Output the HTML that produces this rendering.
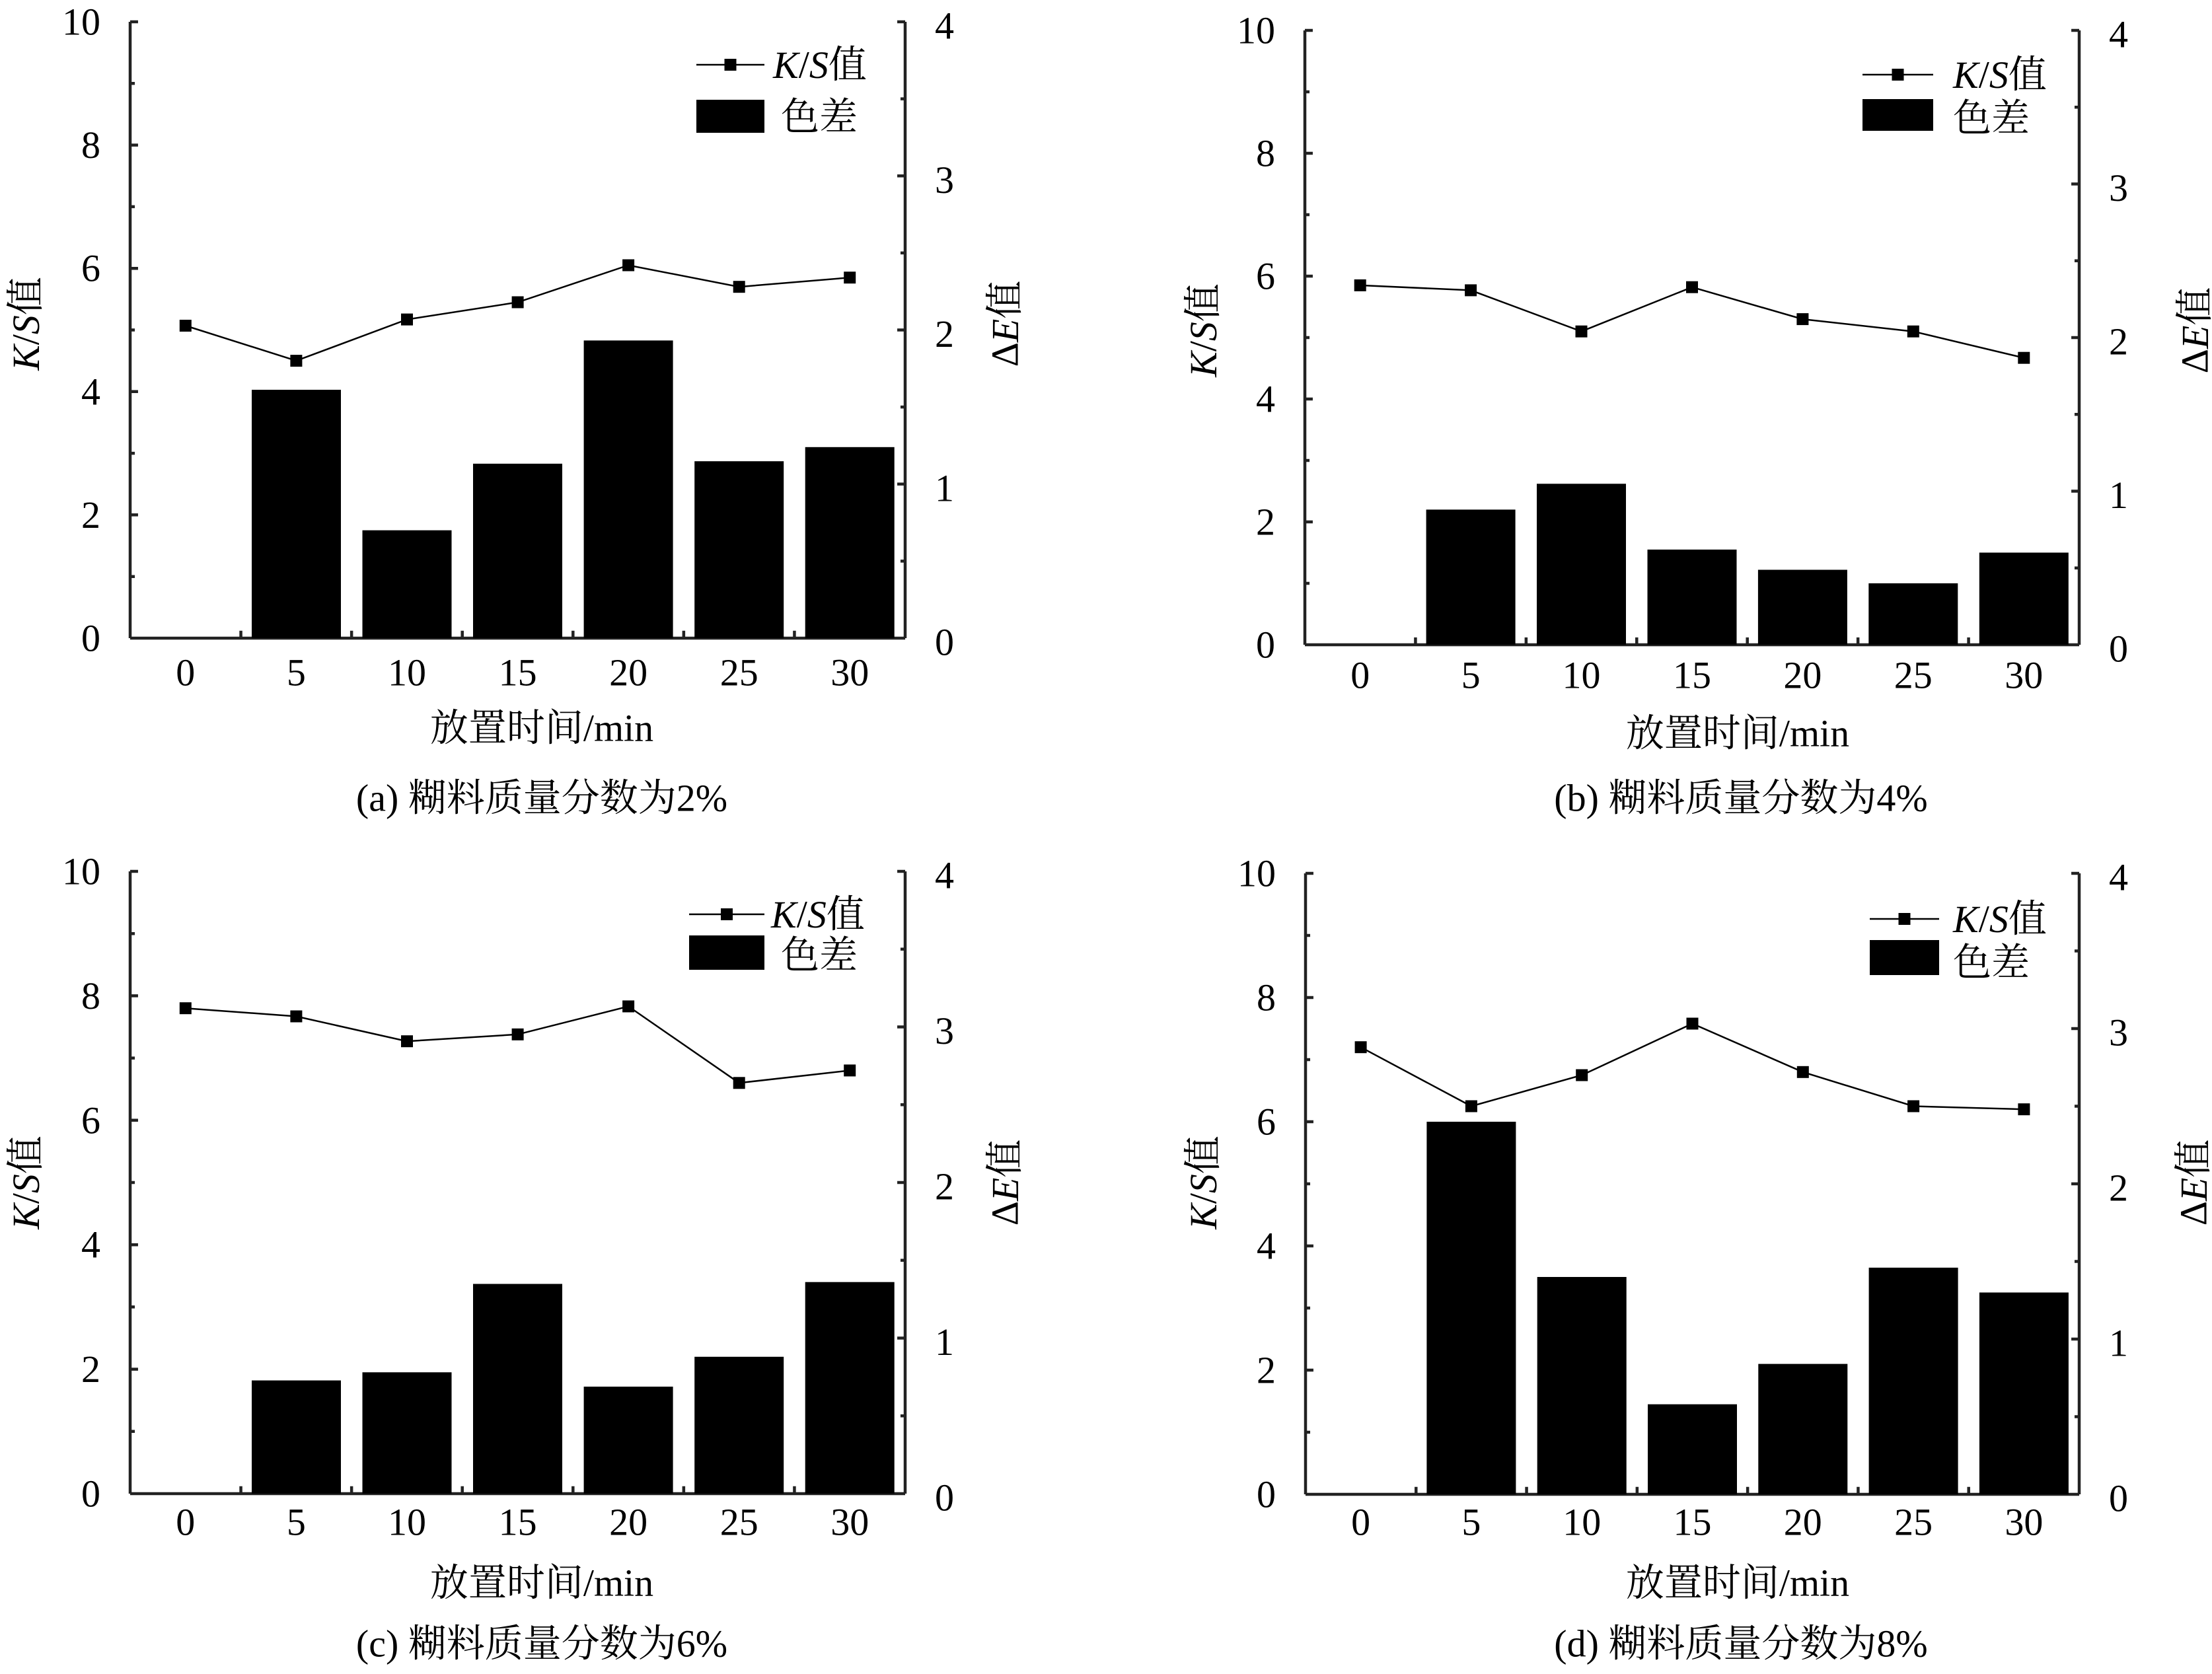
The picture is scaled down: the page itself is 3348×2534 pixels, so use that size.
<!DOCTYPE html>
<html><head><meta charset="utf-8"><style>
html,body{margin:0;padding:0;background:#fff}
svg{display:block;font-family:"Liberation Serif","Noto Serif CJK SC","DejaVu Serif",serif}
svg text{font-family:"Liberation Serif","Noto Serif CJK SC","DejaVu Serif",serif;font-size:58px;fill:#000}
.l{text-anchor:end;dominant-baseline:central;font-family:"Liberation Serif","Noto Serif CJK SC",serif}
.r{text-anchor:start;dominant-baseline:central;font-family:"Liberation Serif","Noto Serif CJK SC",serif}
.m{text-anchor:middle;dominant-baseline:central;font-family:"Liberation Serif","Noto Serif CJK SC",serif}
.s{text-anchor:start;dominant-baseline:central;font-family:"Liberation Serif","Noto Serif CJK SC",serif}
</style></head><body>
<svg width="3348" height="2534" viewBox="0 0 3348 2534" xmlns="http://www.w3.org/2000/svg" font-family="Liberation Serif, Noto Serif CJK SC, serif" font-size="58">
<defs>
<path id="ax" d="M0,0V-1000M1000,0V-1000M0,0H1000
M0,0h10.2M0,-200h10.2M0,-400h10.2M0,-600h10.2M0,-800h10.2M0,-1000h10.2
M0,-100h6M0,-300h6M0,-500h6M0,-700h6M0,-900h6
M1000,0h-10.2M1000,-250h-10.2M1000,-500h-10.2M1000,-750h-10.2M1000,-1000h-10.2
M1000,-125h-6M1000,-375h-6M1000,-625h-6M1000,-875h-6
M142.857,0v-12M285.714,0v-12M428.571,0v-12M571.429,0v-12M714.286,0v-12M857.143,0v-12"
 fill="none" stroke="#222" stroke-width="4.5" vector-effect="non-scaling-stroke"/>
</defs>

<!-- Panel a -->
<use href="#ax" transform="translate(197,966) scale(1.173,0.933)"/>
<g fill="#000">
<rect x="381" y="590" width="135" height="376"/>
<rect x="548.5" y="802.7" width="135" height="163.3"/>
<rect x="716" y="701.9" width="135" height="264.1"/>
<rect x="883.6" y="515.4" width="135" height="450.6"/>
<rect x="1051.2" y="698.2" width="135" height="267.8"/>
<rect x="1218.7" y="676.8" width="135" height="289.2"/>
</g>
<polyline points="280.8,493 448.4,546.1 616,483.6 783.6,457.5 951.1,401.5 1118.7,434.2 1286.2,420.2" fill="none" stroke="#000" stroke-width="2.5"/>
<g fill="#000"><rect x="271.8" y="484" width="18" height="18"/><rect x="439.4" y="537.1" width="18" height="18"/><rect x="607" y="474.6" width="18" height="18"/><rect x="774.6" y="448.5" width="18" height="18"/><rect x="942.1" y="392.5" width="18" height="18"/><rect x="1109.7" y="425.2" width="18" height="18"/><rect x="1277.2" y="411.2" width="18" height="18"/></g>
<g class="l"><text x="152" y="966">0</text><text x="152" y="779.4">2</text><text x="152" y="592.8">4</text><text x="152" y="406.2">6</text><text x="152" y="219.6">8</text><text x="152" y="33">10</text></g>
<g class="r"><text x="1415" y="972">0</text><text x="1415" y="738.8">1</text><text x="1415" y="505.5">2</text><text x="1415" y="272.3">3</text><text x="1415" y="39">4</text></g>
<g class="m"><text x="280.8" y="1018">0</text><text x="448.4" y="1018">5</text><text x="616" y="1018">10</text><text x="783.6" y="1018">15</text><text x="951.1" y="1018">20</text><text x="1118.7" y="1018">25</text><text x="1286.2" y="1018">30</text>
<text x="820" y="1102">放置时间/min</text><text x="820" y="1208">(a) 糊料质量分数为2%</text>
<text transform="translate(39,490) rotate(-90)"><tspan font-style="italic">K</tspan>/<tspan font-style="italic">S</tspan>值</text>
<text transform="translate(1521,490) rotate(-90)">Δ<tspan font-style="italic">E</tspan>值</text></g>
<line x1="1054" y1="98" x2="1157" y2="98" stroke="#000" stroke-width="2.5"/><rect x="1096.5" y="89" width="18" height="18"/>
<text class="s" x="1170" y="98"><tspan font-style="italic">K</tspan>/<tspan font-style="italic">S</tspan>值</text>
<rect x="1054" y="151" width="103" height="50"/><text class="s" x="1182" y="177">色差</text>

<!-- Panel b -->
<use href="#ax" transform="translate(1975,976) scale(1.172,0.930)"/>
<g fill="#000">
<rect x="2158.6" y="771.4" width="135" height="204.6"/>
<rect x="2326" y="732.3" width="135" height="243.7"/>
<rect x="2493.5" y="831.9" width="135" height="144.1"/>
<rect x="2660.9" y="862.5" width="135" height="113.5"/>
<rect x="2828.3" y="883" width="135" height="93"/>
<rect x="2995.8" y="836.5" width="135" height="139.5"/>
</g>
<polyline points="2058.7,431.9 2226.1,439.4 2393.5,501.7 2561,434.7 2728.4,483.1 2895.8,501.7 3063.3,541.7" fill="none" stroke="#000" stroke-width="2.5"/>
<g fill="#000"><rect x="2049.7" y="422.9" width="18" height="18"/><rect x="2217.1" y="430.4" width="18" height="18"/><rect x="2384.5" y="492.7" width="18" height="18"/><rect x="2552" y="425.7" width="18" height="18"/><rect x="2719.4" y="474.1" width="18" height="18"/><rect x="2886.8" y="492.7" width="18" height="18"/><rect x="3054.3" y="532.7" width="18" height="18"/></g>
<g class="l"><text x="1930" y="976">0</text><text x="1930" y="790">2</text><text x="1930" y="604">4</text><text x="1930" y="418">6</text><text x="1930" y="232">8</text><text x="1930" y="46">10</text></g>
<g class="r"><text x="3192" y="982">0</text><text x="3192" y="749.5">1</text><text x="3192" y="517">2</text><text x="3192" y="284.5">3</text><text x="3192" y="52">4</text></g>
<g class="m"><text x="2058.7" y="1022">0</text><text x="2226.1" y="1022">5</text><text x="2393.5" y="1022">10</text><text x="2561" y="1022">15</text><text x="2728.4" y="1022">20</text><text x="2895.8" y="1022">25</text><text x="3063.3" y="1022">30</text>
<text x="2630" y="1110">放置时间/min</text><text x="2635" y="1208">(b) 糊料质量分数为4%</text>
<text transform="translate(1821,500) rotate(-90)"><tspan font-style="italic">K</tspan>/<tspan font-style="italic">S</tspan>值</text>
<text transform="translate(3322,500) rotate(-90)">Δ<tspan font-style="italic">E</tspan>值</text></g>
<line x1="2819" y1="113" x2="2926" y2="113" stroke="#000" stroke-width="2.5"/><rect x="2863.5" y="104" width="18" height="18"/>
<text class="s" x="2956" y="113"><tspan font-style="italic">K</tspan>/<tspan font-style="italic">S</tspan>值</text>
<rect x="2819" y="150" width="107" height="48"/><text class="s" x="2956" y="179">色差</text>

<!-- Panel c -->
<use href="#ax" transform="translate(197,2261) scale(1.173,0.942)"/>
<g fill="#000">
<rect x="381" y="2089.6" width="135" height="171.4"/>
<rect x="548.5" y="2077.3" width="135" height="183.7"/>
<rect x="716" y="1943.5" width="135" height="317.5"/>
<rect x="883.6" y="2099" width="135" height="162"/>
<rect x="1051.2" y="2053.8" width="135" height="207.2"/>
<rect x="1218.7" y="1940.7" width="135" height="320.3"/>
</g>
<polyline points="280.8,1526.2 448.4,1538.5 616,1576.2 783.6,1565.8 951.1,1523.4 1118.7,1639.3 1286.2,1620.4" fill="none" stroke="#000" stroke-width="2.5"/>
<g fill="#000"><rect x="271.8" y="1517.2" width="18" height="18"/><rect x="439.4" y="1529.5" width="18" height="18"/><rect x="607" y="1567.2" width="18" height="18"/><rect x="774.6" y="1556.8" width="18" height="18"/><rect x="942.1" y="1514.4" width="18" height="18"/><rect x="1109.7" y="1630.3" width="18" height="18"/><rect x="1277.2" y="1611.4" width="18" height="18"/></g>
<g class="l"><text x="152" y="2261">0</text><text x="152" y="2072.6">2</text><text x="152" y="1884.2">4</text><text x="152" y="1695.8">6</text><text x="152" y="1507.4">8</text><text x="152" y="1319">10</text></g>
<g class="r"><text x="1415" y="2267">0</text><text x="1415" y="2031.5">1</text><text x="1415" y="1796">2</text><text x="1415" y="1560.5">3</text><text x="1415" y="1325">4</text></g>
<g class="m"><text x="280.8" y="2304">0</text><text x="448.4" y="2304">5</text><text x="616" y="2304">10</text><text x="783.6" y="2304">15</text><text x="951.1" y="2304">20</text><text x="1118.7" y="2304">25</text><text x="1286.2" y="2304">30</text>
<text x="820" y="2396">放置时间/min</text><text x="820" y="2488">(c) 糊料质量分数为6%</text>
<text transform="translate(39,1790) rotate(-90)"><tspan font-style="italic">K</tspan>/<tspan font-style="italic">S</tspan>值</text>
<text transform="translate(1521,1790) rotate(-90)">Δ<tspan font-style="italic">E</tspan>值</text></g>
<line x1="1043" y1="1384" x2="1157" y2="1384" stroke="#000" stroke-width="2.5"/><rect x="1091" y="1375" width="18" height="18"/>
<text class="s" x="1167" y="1384"><tspan font-style="italic">K</tspan>/<tspan font-style="italic">S</tspan>值</text>
<rect x="1043" y="1416" width="114" height="52"/><text class="s" x="1182" y="1446">色差</text>

<!-- Panel d -->
<use href="#ax" transform="translate(1976,2262) scale(1.171,0.940)"/>
<g fill="#000">
<rect x="2159.4" y="1698" width="135" height="564"/>
<rect x="2326.7" y="1933" width="135" height="329"/>
<rect x="2494" y="2125.7" width="135" height="136.3"/>
<rect x="2661.3" y="2064.6" width="135" height="197.4"/>
<rect x="2828.6" y="1918.9" width="135" height="343.1"/>
<rect x="2995.9" y="1956.5" width="135" height="305.5"/>
</g>
<polyline points="2059.6,1585.2 2226.9,1674.5 2394.2,1627.5 2561.5,1549.5 2728.8,1622.8 2896.1,1674.5 3063.4,1679.2" fill="none" stroke="#000" stroke-width="2.5"/>
<g fill="#000"><rect x="2050.6" y="1576.2" width="18" height="18"/><rect x="2217.9" y="1665.5" width="18" height="18"/><rect x="2385.2" y="1618.5" width="18" height="18"/><rect x="2552.5" y="1540.5" width="18" height="18"/><rect x="2719.8" y="1613.8" width="18" height="18"/><rect x="2887.1" y="1665.5" width="18" height="18"/><rect x="3054.4" y="1670.2" width="18" height="18"/></g>
<g class="l"><text x="1931" y="2262">0</text><text x="1931" y="2074">2</text><text x="1931" y="1886">4</text><text x="1931" y="1698">6</text><text x="1931" y="1510">8</text><text x="1931" y="1322">10</text></g>
<g class="r"><text x="3192" y="2268">0</text><text x="3192" y="2033">1</text><text x="3192" y="1798">2</text><text x="3192" y="1563">3</text><text x="3192" y="1328">4</text></g>
<g class="m"><text x="2059.6" y="2304">0</text><text x="2226.9" y="2304">5</text><text x="2394.2" y="2304">10</text><text x="2561.5" y="2304">15</text><text x="2728.8" y="2304">20</text><text x="2896.1" y="2304">25</text><text x="3063.4" y="2304">30</text>
<text x="2630" y="2396">放置时间/min</text><text x="2635" y="2488">(d) 糊料质量分数为8%</text>
<text transform="translate(1821,1790) rotate(-90)"><tspan font-style="italic">K</tspan>/<tspan font-style="italic">S</tspan>值</text>
<text transform="translate(3320,1790) rotate(-90)">Δ<tspan font-style="italic">E</tspan>值</text></g>
<line x1="2830" y1="1391" x2="2935" y2="1391" stroke="#000" stroke-width="2.5"/><rect x="2873.5" y="1382" width="18" height="18"/>
<text class="s" x="2956" y="1391"><tspan font-style="italic">K</tspan>/<tspan font-style="italic">S</tspan>值</text>
<rect x="2830" y="1423" width="105" height="53"/><text class="s" x="2956" y="1457">色差</text>
</svg>
</body></html>
